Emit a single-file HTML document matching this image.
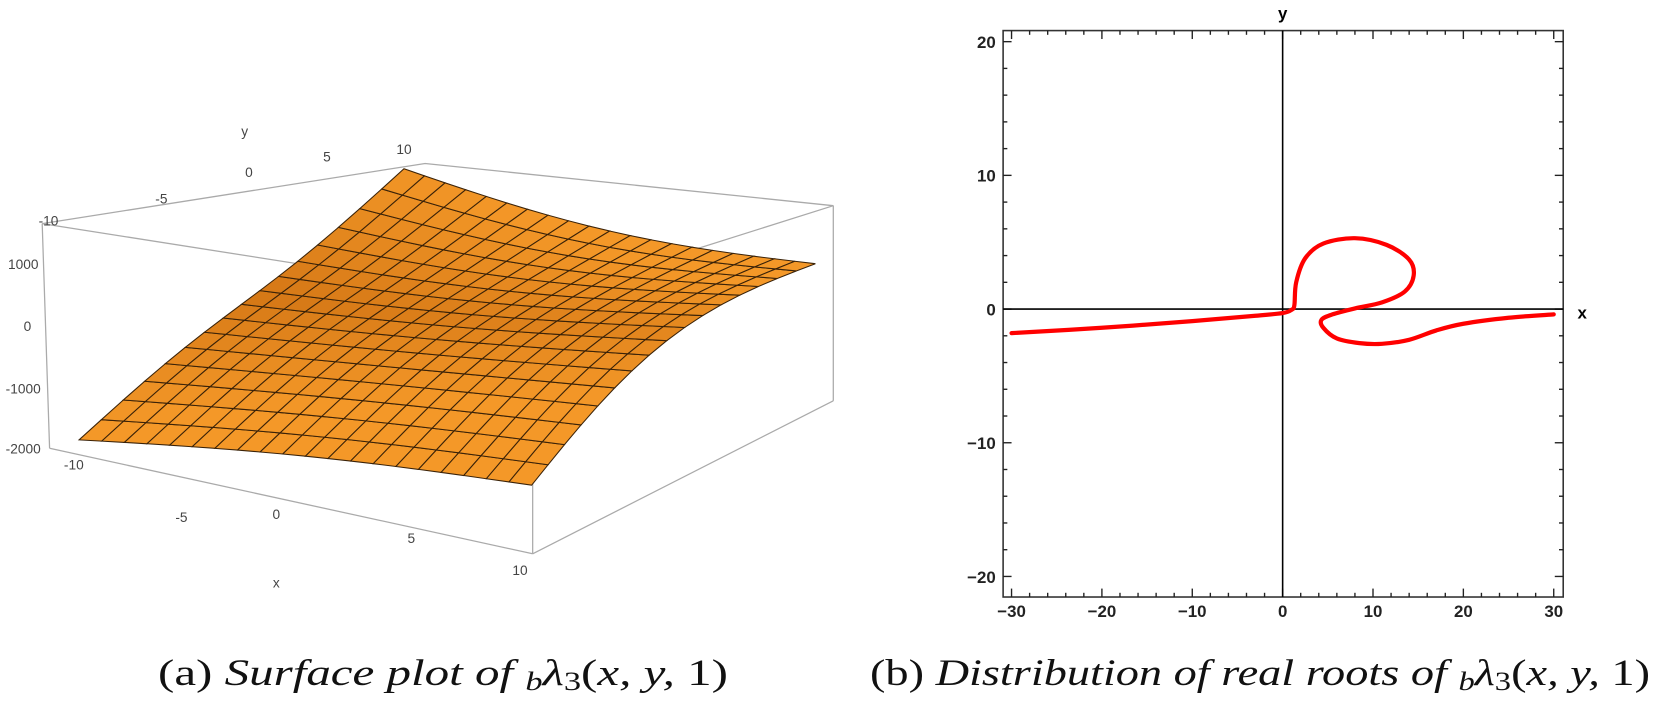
<!DOCTYPE html>
<html><head><meta charset="utf-8"><style>
body{margin:0;background:#fff;}
svg{display:block;}
text{font-family:"Liberation Sans",sans-serif;}
.cap{font-family:"Liberation Serif",serif;font-size:37px;fill:#111;}
</style></head><body>
<svg id="root" width="1654" height="703" viewBox="0 0 1654 703">
<g transform="scale(1.0548)">
<g id="surf">
 <g stroke="#aaa" stroke-width="1.2" fill="none">
  <polyline points="40,212 403,155 790,195 505,285 40,212"/>
  <line x1="40" y1="212" x2="47" y2="425"/>
  <line x1="47" y1="425" x2="505" y2="525"/>
  <line x1="505" y1="285" x2="505" y2="525"/>
  <line x1="505" y1="525" x2="790" y2="380"/>
  <line x1="790" y1="195" x2="790" y2="380"/>
 </g>
 <g id="mesh"></g>
 <g font-size="13" fill="#444">
  <text x="22" y="255" text-anchor="middle">1000</text>
  <text x="26" y="314" text-anchor="middle">0</text>
  <text x="22" y="373" text-anchor="middle">-1000</text>
  <text x="22" y="430" text-anchor="middle">-2000</text>
  <text x="46" y="214" text-anchor="middle">-10</text>
  <text x="153" y="193" text-anchor="middle">-5</text>
  <text x="236" y="168" text-anchor="middle">0</text>
  <text x="310" y="153" text-anchor="middle">5</text>
  <text x="383" y="146" text-anchor="middle">10</text>
  <text x="232" y="129" text-anchor="middle">y</text>
  <text x="70" y="445" text-anchor="middle">-10</text>
  <text x="172" y="495" text-anchor="middle">-5</text>
  <text x="262" y="492" text-anchor="middle">0</text>
  <text x="390" y="515" text-anchor="middle">5</text>
  <text x="493" y="545" text-anchor="middle">10</text>
  <text x="262" y="557" text-anchor="middle">x</text>
 </g>
</g>
<g id="roots">
 <rect x="951" y="29" width="531" height="537" fill="none" stroke="#333" stroke-width="1.5"/>
 <g id="ticks" stroke="#222" stroke-width="1.3"></g>
 <g id="ticklabels" font-size="16" font-weight="bold" fill="#222"></g>
 <line id="xaxis" stroke="#000" stroke-width="1.5"/>
 <line id="yaxis" stroke="#000" stroke-width="1.5"/>
 <path id="curve" fill="none" stroke="#f00" stroke-width="4" stroke-linecap="round" stroke-linejoin="round"/>
 <text x="1216" y="18" font-size="16" font-weight="bold" text-anchor="middle">y</text>
 <text x="1500" y="302" font-size="16" font-weight="bold" text-anchor="middle">x</text>
</g>
</g>
<text class="cap" x="158" y="685" textLength="570" lengthAdjust="spacingAndGlyphs">(a) <tspan font-style="italic">Surface plot of </tspan><tspan font-style="italic" font-size="26" dy="5">b</tspan><tspan font-style="italic" dy="-5">λ</tspan><tspan font-size="26" dy="5">3</tspan><tspan dy="-5">(</tspan><tspan font-style="italic">x, y, </tspan><tspan>1)</tspan></text>
<text class="cap" x="870" y="685" textLength="780" lengthAdjust="spacingAndGlyphs">(b) <tspan font-style="italic">Distribution of real roots of </tspan><tspan font-style="italic" font-size="26" dy="5">b</tspan><tspan font-style="italic" dy="-5">λ</tspan><tspan font-size="26" dy="5">3</tspan><tspan dy="-5">(</tspan><tspan font-style="italic">x, y, </tspan><tspan>1)</tspan></text>
</svg>
<script>
// ---- roots chart data ----
const curveX = [-30,-20,-10,-3,0,1,1.3,1.5,2.5,4.5,8,11.5,14,14.5,13.5,11,8,5.5,4.3,4.5,6,8.5,11,14,17,20,25,30];
const curveY = [-1.8,-1.4,-0.9,-0.5,-0.3,-0.05,0.3,2,3.8,4.9,5.3,4.8,3.7,2.5,1.3,0.5,0.05,-0.4,-0.8,-1.4,-2.2,-2.55,-2.6,-2.3,-1.6,-1.1,-0.65,-0.4];
const xTicks = [-30,-20,-10,0,10,20,30];
const yTicks = [-20,-10,0,10,20];
const ns='http://www.w3.org/2000/svg';
const X = v => 1216 + v*8.567;
const Y = v => 293 - v*12.675;
let d='';
for(let i=0;i<curveX.length;i++){
  const px=X(curveX[i]), py=Y(curveY[i]);
  if(i===0) d+='M'+px+' '+py;
  else{
    const p0=[X(curveX[Math.max(i-2,0)]),Y(curveY[Math.max(i-2,0)])];
    const p1=[X(curveX[i-1]),Y(curveY[i-1])];
    const p3=[X(curveX[Math.min(i+1,curveX.length-1)]),Y(curveY[Math.min(i+1,curveX.length-1)])];
    const c1=[p1[0]+(px-p0[0])/6,p1[1]+(py-p0[1])/6];
    const c2=[px-(p3[0]-p1[0])/6,py-(p3[1]-p1[1])/6];
    d+=` C${c1[0]} ${c1[1]} ${c2[0]} ${c2[1]} ${px} ${py}`;
  }
}
document.getElementById('curve').setAttribute('d',d);
const xa=document.getElementById('xaxis');
xa.setAttribute('x1',951);xa.setAttribute('x2',1482);xa.setAttribute('y1',Y(0));xa.setAttribute('y2',Y(0));
const ya=document.getElementById('yaxis');
ya.setAttribute('x1',X(0));ya.setAttribute('x2',X(0));ya.setAttribute('y1',29);ya.setAttribute('y2',566);
const tg=document.getElementById('ticks'), lg=document.getElementById('ticklabels');
function ln(g,x1,y1,x2,y2){const l=document.createElementNS(ns,'line');l.setAttribute('x1',x1);l.setAttribute('y1',y1);l.setAttribute('x2',x2);l.setAttribute('y2',y2);


g.appendChild(l);}
for(let v=-30;v<=30;v+=2){const big=v%10===0;const px=X(v);ln(tg,px,29,px,29+(big?8:4));ln(tg,px,566,px,566-(big?8:4));}
for(let v=-20;v<=20;v+=2){const big=v%10===0;const py=Y(v);ln(tg,951,py,951+(big?8:4),py);ln(tg,1482,py,1482-(big?8:4),py);}
xTicks.forEach(v=>{const t=document.createElementNS(ns,'text');t.setAttribute('x',X(v));t.setAttribute('y',585);t.setAttribute('text-anchor','middle');t.textContent=v<0?'−'+(-v):v;


lg.appendChild(t);});
yTicks.forEach(v=>{const t=document.createElementNS(ns,'text');t.setAttribute('x',944);t.setAttribute('y',Y(v)+6);t.setAttribute('text-anchor','end');t.textContent=v<0?'−'+(-v):v;


lg.appendChild(t);});
// ---- surface mesh ----
const A=[75,417],B=[383,160],C=[773,250],D=[504,460];
const N=20, M=16;
function P(u,v){
  const x=(1-u)*(1-v)*A[0]+u*(1-v)*D[0]+u*v*C[0]+(1-u)*v*B[0];
  const y=(1-u)*(1-v)*A[1]+u*(1-v)*D[1]+u*v*C[1]+(1-u)*v*B[1];
  const L=-8*Math.sin(2*Math.PI*v);
  const R=-32*Math.sin(Math.PI*v);
  const F=-6*Math.sin(Math.PI*u);
  const K=14*Math.sin(Math.PI*u);
  const dy=(1-u)*L+u*R+(1-v)*F+v*K;
  const dx=(1-u)*(-L*0.6)+u*(R*0.2);
  return [x+dx, y+dy];
}
const mg=document.getElementById('mesh');
for(let i=0;i<N;i++)for(let j=0;j<M;j++){
  const u0=i/N,u1=(i+1)/N,v0=j/M,v1=(j+1)/M;
  const pts=[P(u0,v0),P(u1,v0),P(u1,v1),P(u0,v1)];
  const c=Math.min(1,0.35+1.3*Math.abs((j+0.5)/M-0.55)+0.3*(i/N));
  const r=Math.round(196+48*c), g=Math.round(102+50*c), bl=Math.round(12+28*c);
  const p=document.createElementNS(ns,'polygon');
  p.setAttribute('points',pts.map(q=>q.join(',')).join(' '));
  p.setAttribute('fill',`rgb(${r},${g},${bl})`);
  p.setAttribute('stroke','#3a2208');p.setAttribute('stroke-width','1');
  
  
  mg.appendChild(p);
}
</script>
</body></html>
